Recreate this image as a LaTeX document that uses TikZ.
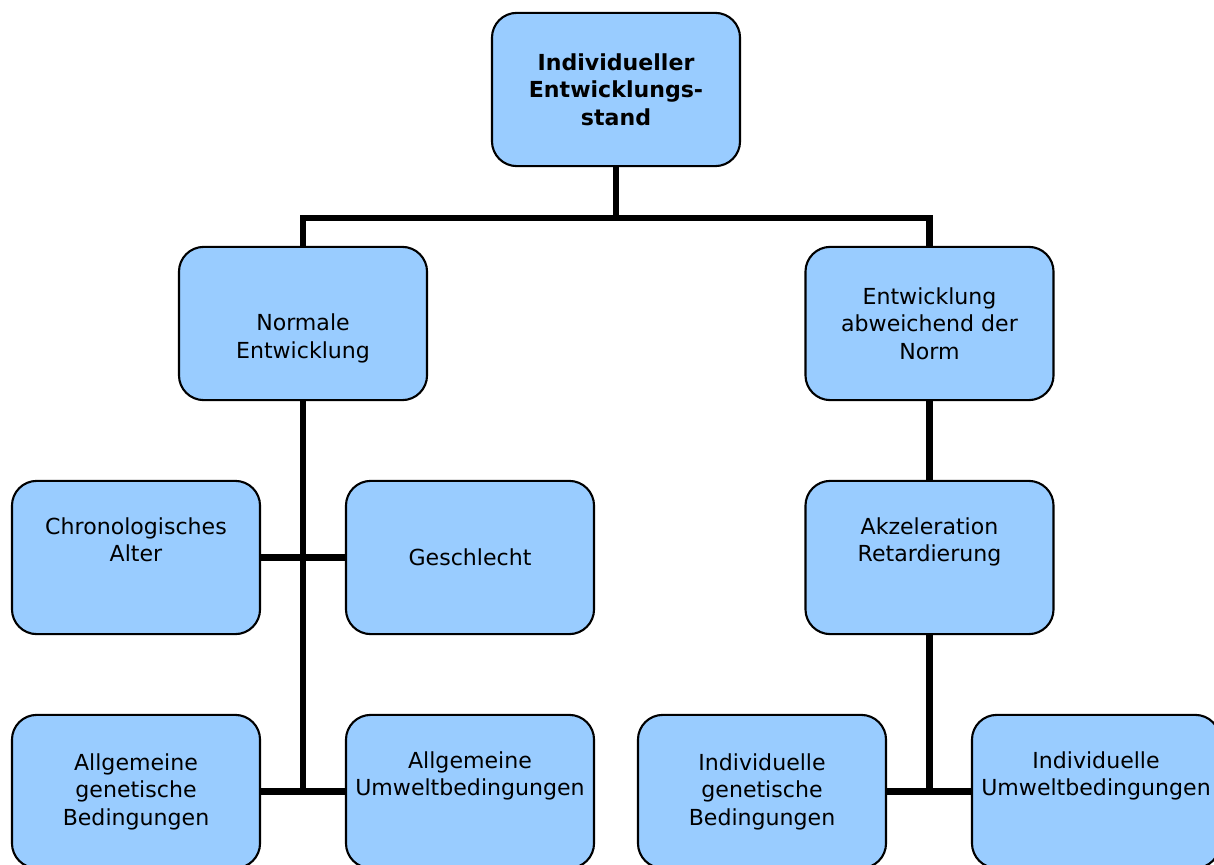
\documentclass[tikz,border=0pt]{standalone}
\usepackage{fontspec}
\setmainfont{DejaVu Sans}
\usepackage{tikz}
\usetikzlibrary{positioning,calc}
\definecolor{bleuboite}{HTML}{99CCFF}
\tikzset{
  boite/.style={draw=black,line width=1.5pt,rounded corners=0.62cm,fill=bleuboite,align=center,
                font=\fontsize{15.7}{19.6}\selectfont,inner sep=2pt,
                minimum width=6.2cm,minimum height=3.83cm},
  trait/.style={line width=4.6pt,black},
}

\begin{document}
\begin{tikzpicture}[x=0.025cm,y=-0.025cm]
  \useasboundingbox (0,0) rectangle (1214,865);
  \clip (0,0) rectangle (1214,865);
  \node[boite] (racine) at (616,89.5) {\textbf{Individueller}\\\textbf{Entwicklungs-}\\\textbf{stand}};
  \node[boite] (normal) at (303,323.5) {\strut\\Normale\\Entwicklung};
  \node[boite] (abweich) at (929.5,323.5) {Entwicklung\\abweichend der\\Norm};
  \node[boite] (chrono) at (136,557.5) {Chronologisches\\Alter\\\strut};
  \node[boite] (geschl) at (470,557.5) {Geschlecht};
  \node[boite] (akzel) at (929.5,557.5) {Akzeleration\\Retardierung\\\strut};
  \node[boite] (allggen) at (136,791.5) {Allgemeine\\genetische\\Bedingungen};
  \node[boite] (allgumw) at (470,791.5) {Allgemeine\\Umweltbedingungen\\\strut};
  \node[boite] (indgen) at (762,791.5) {Individuelle\\genetische\\Bedingungen};
  \node[boite] (indumw) at (1096,791.5) {Individuelle\\Umweltbedingungen\\\strut};
  % liaisons
  \coordinate (jonction) at (616,218);
  \draw[trait] (racine) -- (jonction);
  \draw[trait] (normal.north) |- (jonction) -| (abweich.north);
  \draw[trait] (normal) -- (normal |- allggen);
  \draw[trait] (akzel) -- (akzel |- indgen);
  \foreach \u/\v in {chrono/geschl,allggen/allgumw,abweich/akzel,indgen/indumw}
    \draw[trait] (\u)--(\v);
\end{tikzpicture}
\end{document}
